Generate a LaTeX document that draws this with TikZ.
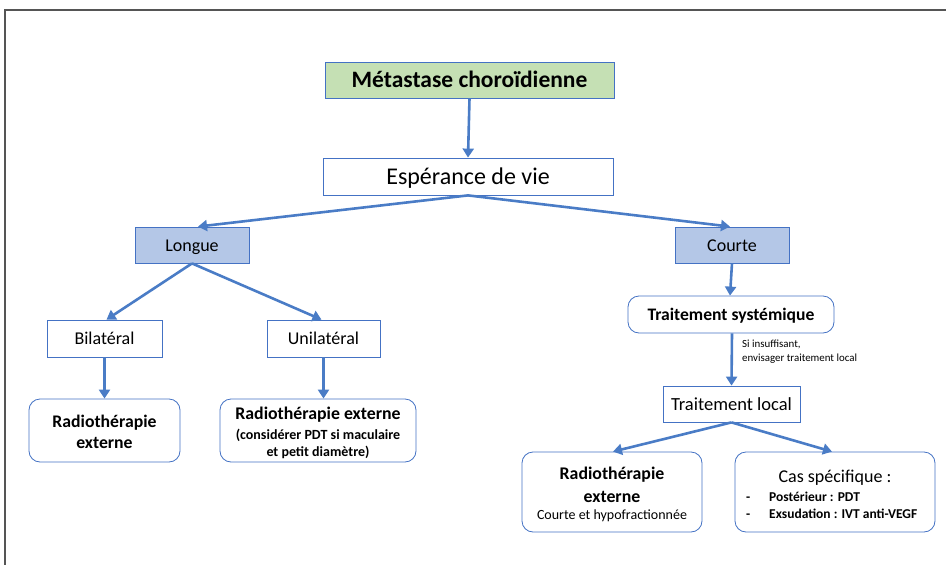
\documentclass[tikz,border=0pt]{standalone}
\usepackage{fontspec}
\setmainfont{Carlito}
\usetikzlibrary{arrows.meta,calc}
\definecolor{bordblue}{HTML}{4472C4}
\definecolor{arrblue}{HTML}{4A7CC6}
\definecolor{greenfill}{HTML}{C5E0B4}
\definecolor{bluefill}{HTML}{B4C7E7}
\definecolor{framegray}{HTML}{555555}
\tikzset{
  sqbox/.style={draw=bordblue, line width=0.8pt, fill=white, inner sep=0pt, text depth=0pt},
  rbox/.style={draw=bordblue, line width=0.8pt, fill=white, inner sep=0pt, rounded corners=11pt},
  conn/.style={draw=arrblue, line width=2.6pt, -{Triangle[length=9pt,width=11pt]}, shorten >=0pt},
  framelines/.style={draw=framegray, line width=1.6pt},
  txt/.style={inner sep=0pt, align=center}
}
\begin{document}
\begin{tikzpicture}[x=1pt,y=-1pt]
\useasboundingbox (0,0) rectangle (946,565);
\draw[framelines] (5,566) -- (5,10) -- (947,10);

\node[sqbox, fill=greenfill, minimum width=289pt, minimum height=36pt, text height=15.7pt, font=\fontsize{23.5}{28}\selectfont\bfseries] (meta) at (469.5,80) {Métastase choroïdienne};
\node[sqbox, minimum width=290pt, minimum height=37pt, text height=16pt, font=\fontsize{24}{28}\selectfont] (esp) at (468,176.5) {Espérance de vie};
\node[sqbox, fill=bluefill, minimum width=114pt, minimum height=36pt, text height=12pt, font=\fontsize{18}{21}\selectfont] (longue) at (192,245) {Longue};
\node[sqbox, fill=bluefill, minimum width=114pt, minimum height=36pt, text height=12pt, font=\fontsize{18}{21}\selectfont] (courte) at (732,245) {Courte};
\node[sqbox, minimum width=115pt, minimum height=37pt, text height=12pt, font=\fontsize{18}{21}\selectfont] (bilat) at (104.5,338.5) {Bilatéral};
\node[sqbox, minimum width=113pt, minimum height=37pt, text height=12pt, font=\fontsize{18}{21}\selectfont] (unilat) at (323.5,338.5) {Unilatéral};

\node[rbox, minimum width=151pt, minimum height=63pt] (radio1) at (104.5,430.5) {};
\node[txt, font=\fontsize{17.7}{20}\selectfont\bfseries] (radio1a) at (104.5,423) {Radiothérapie};
\node[txt, font=\fontsize{17.7}{20}\selectfont\bfseries] (radio1b) at (104.5,443) {externe};

\node[rbox, minimum width=196pt, minimum height=63pt] (radio2) at (318,430.5) {};
\node[txt, font=\fontsize{17.8}{20}\selectfont\bfseries] (radio2a) at (318,415) {Radiothérapie externe};
\node[txt, font=\fontsize{14}{16}\selectfont\bfseries] (radio2b) at (318,435) {(considérer PDT si maculaire};
\node[txt, font=\fontsize{14}{16}\selectfont\bfseries] (radio2c) at (318,452) {et petit diamètre)};

\node[rbox, minimum width=206pt, minimum height=37pt, font=\fontsize{17.6}{20}\selectfont\bfseries, text height=11.8pt, text depth=0pt] (systeme) at (731,314.5) {Traitement systémique};
\node[sqbox, minimum width=137pt, minimum height=36pt, text height=12.4pt, font=\fontsize{18.5}{21}\selectfont] (local) at (731.5,404) {Traitement local};

\node[rbox, minimum width=180pt, minimum height=80pt] (radio3) at (612,492) {};
\node[txt, font=\fontsize{17.8}{20}\selectfont\bfseries] (radio3a) at (612,475) {Radiothérapie};
\node[txt, font=\fontsize{17.8}{20}\selectfont\bfseries] (radio3b) at (612,497) {externe};
\node[txt, font=\fontsize{14}{16}\selectfont] (radio3c) at (612,516) {Courte et hypofractionnée};

\node[rbox, minimum width=200pt, minimum height=80pt] (cas) at (835,492) {};
\node[txt, font=\fontsize{18}{21}\selectfont] (castitle) at (835,478) {Cas spécifique :};
\node[txt, font=\fontsize{13.5}{16}\selectfont\bfseries, anchor=west] (cas1) at (746,497) {\makebox[23pt][l]{-}Postérieur : PDT};
\node[txt, font=\fontsize{13.5}{16}\selectfont\bfseries, anchor=west] (cas2) at (746,513.5) {\makebox[23pt][l]{-}Exsudation : IVT anti-VEGF};

\node[font=\fontsize{10.9}{13.5}\selectfont, anchor=north west, align=left, inner sep=0pt] (note) at (742,340) {Si insuffisant,\\envisager traitement local};

\draw[conn] (meta.south) -- (esp.north);
\draw[conn] (esp.south) -- ([xshift=6pt]longue.north);
\draw[conn] (esp.south) -- ([xshift=-2pt]courte.north);
\draw[conn] (longue.south) -- ([xshift=2pt]bilat.north);
\draw[conn] (longue.south) -- ([xshift=-2pt]unilat.north);
\draw[conn] (bilat.south) -- (radio1.north);
\draw[conn] (unilat.south) -- (unilat.south |- radio2.north);
\draw[conn] (courte.south) -- ([xshift=-1pt]systeme.north);
\draw[conn] ([xshift=1pt]systeme.south) -- (local.north);
\draw[conn] (local.south) -- ([xshift=1pt]radio3.north);
\draw[conn] (local.south) -- ([xshift=-3pt]cas.north);
\end{tikzpicture}
\end{document}
